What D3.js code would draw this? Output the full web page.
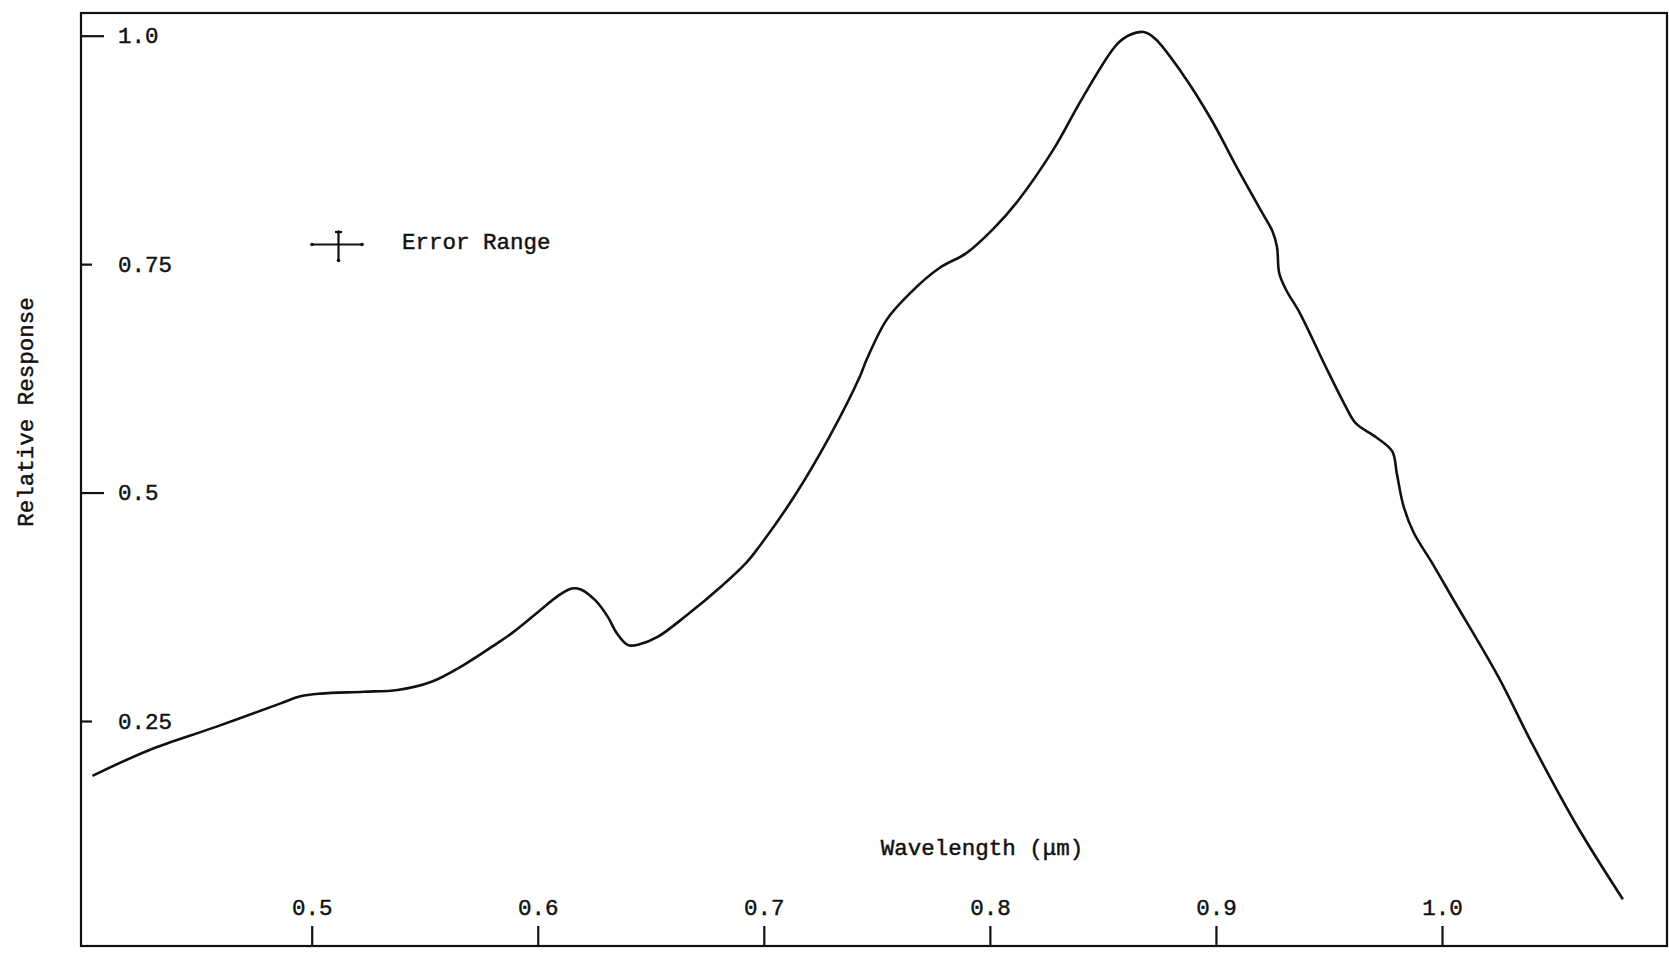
<!DOCTYPE html>
<html>
<head>
<meta charset="utf-8">
<script src="https://cdn.jsdelivr.net/npm/d3@7"></script>
<style>
  html, body { margin: 0; padding: 0; background: #fff; }
  svg { display: block; }
  text { font-family: "Liberation Mono", "Courier New", monospace; fill: #111; stroke: #111; stroke-width: 0.45px; }
</style>
</head>
<body>
<svg id="chart" width="1669" height="953"></svg>
<script>
// ---- Data ----
const wavelength = [0.403, 0.428, 0.457, 0.486, 0.495, 0.504, 0.523, 0.538, 0.553, 0.567,
  0.582, 0.589, 0.600, 0.609, 0.615, 0.619, 0.6255, 0.631, 0.635, 0.640,
  0.645, 0.653, 0.666, 0.681, 0.6925, 0.698, 0.713, 0.729, 0.7425, 0.7454,
  0.7543, 0.7646, 0.7778, 0.7896, 0.8013, 0.8117, 0.828, 0.841, 0.856, 0.862,
  0.868, 0.873, 0.885, 0.898, 0.909, 0.9205, 0.925, 0.927, 0.928, 0.931,
  0.937, 0.9485, 0.9566, 0.9618, 0.9706, 0.978, 0.980, 0.983, 0.9875, 0.9956,
  1.005, 1.025, 1.0397, 1.060, 1.080];
const response = [0.190, 0.218, 0.243, 0.269, 0.277, 0.280, 0.282, 0.284, 0.293, 0.311,
  0.335, 0.347, 0.369, 0.387, 0.395, 0.394, 0.382, 0.364, 0.346, 0.333,
  0.334, 0.342, 0.366, 0.397, 0.424, 0.441, 0.494, 0.561, 0.627, 0.645,
  0.689, 0.718, 0.746, 0.762, 0.788, 0.817, 0.875, 0.932, 0.990, 1.001,
  1.004, 0.997, 0.959, 0.908, 0.857, 0.806, 0.786, 0.769, 0.740, 0.722,
  0.697, 0.638, 0.598, 0.576, 0.561, 0.545, 0.521, 0.485, 0.456, 0.423,
  0.383, 0.298, 0.226, 0.134, 0.055];

const xTickValues = [0.5, 0.6, 0.7, 0.8, 0.9, 1.0];
const xTickLabels = ["0.5", "0.6", "0.7", "0.8", "0.9", "1.0"];
const yMajorTicks = [1.0, 0.5];
const yMajorLabels = ["1.0", "0.5"];
const yMinorTicks = [0.75, 0.25];
const yMinorLabels = ["0.75", "0.25"];

const xTitle = "Wavelength (\u03bcm)";
const yTitle = "Relative Response";
const legendLabel = "Error Range";

// ---- Layout ----
const svg = d3.select("#chart");
const frame = { left: 81, top: 13, right: 1667, bottom: 946 };
const FS = 22.5;

const x = d3.scaleLinear().domain([0.5, 1.0]).range([311.7, 1442]);
const y = d3.scaleLinear().domain([0.25, 1.0]).range([721, 35.7]);

// Frame
svg.append("rect")
  .attr("x", frame.left).attr("y", frame.top)
  .attr("width", frame.right - frame.left)
  .attr("height", frame.bottom - frame.top)
  .attr("fill", "none").attr("stroke", "#111").attr("stroke-width", 2.2);

function styleAxis(g) {
  g.select(".domain").remove();
  g.selectAll("line").attr("stroke", "#111").attr("stroke-width", 2.2);
  g.selectAll("text").attr("font-size", FS).attr("font-family", null).attr("fill", "#111");
}
// Y axis: ticks pointing inward (right) from the left edge
svg.append("g")
  .attr("transform", `translate(${frame.left},0)`)
  .call(d3.axisRight(y).tickValues(yMajorTicks)
        .tickFormat((d, i) => yMajorLabels[i]).tickSize(23).tickPadding(14))
  .call(styleAxis);
svg.append("g")
  .attr("transform", `translate(${frame.left},0)`)
  .call(d3.axisRight(y).tickValues(yMinorTicks)
        .tickFormat((d, i) => yMinorLabels[i]).tickSize(11).tickPadding(26))
  .call(styleAxis);

// X axis: ticks pointing up from bottom edge
svg.append("g")
  .attr("transform", `translate(0,${frame.bottom})`)
  .call(d3.axisTop(x).tickValues(xTickValues)
        .tickFormat((d, i) => xTickLabels[i]).tickSize(20).tickPadding(11))
  .call(styleAxis);

// Axis titles
svg.append("text")
  .attr("x", 982).attr("y", 855)
  .attr("text-anchor", "middle").attr("font-size", FS)
  .text(xTitle);
svg.append("text")
  .attr("transform", "translate(33,412) rotate(-90)")
  .attr("text-anchor", "middle").attr("font-size", FS)
  .text(yTitle);

// Error range legend
const lg = svg.append("g").attr("stroke", "#111").attr("stroke-width", 2.2).attr("fill", "#111");
lg.append("line").attr("x1", 312).attr("x2", 362).attr("y1", 244.5).attr("y2", 244.5);
lg.append("line").attr("x1", 338.5).attr("x2", 338.5).attr("y1", 232).attr("y2", 260.5);
[[312, 244.5], [362, 244.5], [338.5, 232], [338.5, 260.5]].forEach(p => {
  lg.append("circle").attr("cx", p[0]).attr("cy", p[1]).attr("r", 1.8).attr("stroke", "none");
});
lg.append("line").attr("x1", 335).attr("x2", 342).attr("y1", 232).attr("y2", 232);
svg.append("text")
  .attr("x", 402).attr("y", 248.5)
  .attr("font-size", FS)
  .text(legendLabel);

// Curve
const pts = wavelength.map((w, i) => [w, response[i]]);
const line = d3.line()
  .x(d => x(d[0])).y(d => y(d[1]))
  .curve(d3.curveCatmullRom.alpha(0.5));
svg.append("path")
  .datum(pts)
  .attr("d", line)
  .attr("fill", "none")
  .attr("stroke", "#111")
  .attr("stroke-width", 2.6)
  .attr("stroke-linejoin", "round")
  .attr("stroke-linecap", "butt");
</script>
</body>
</html>
